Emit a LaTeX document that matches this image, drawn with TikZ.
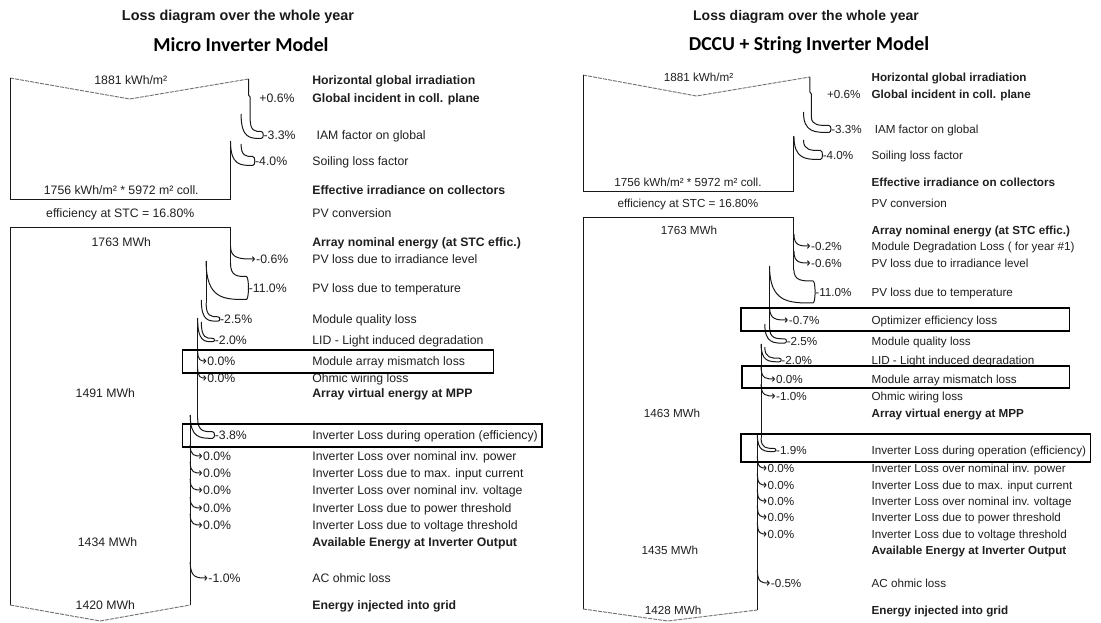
\documentclass[tikz,border=0pt]{standalone}
\usepackage{fontspec}
\setmainfont{Liberation Sans}
\newfontfamily\modelfont{Carlito}
\usetikzlibrary{calc,arrows.meta}

% loss band: old edge x, new edge x, outer start y, inner start y, value node, half height of the band end
\newcommand{\lossband}[6]{%
  \coordinate (lbA) at (#1,#3);
  \coordinate (lbB) at (#2,#4);
  \coordinate (lbT) at ($(#5.west)+(-2,-#6)$);
  \coordinate (lbU) at ($(#5.west)+(-2,#6)$);
  \draw[flow] (lbA) .. controls (lbA |- lbT) and ($(lbA |- lbT)!0.45!(lbT)$) .. (lbT)
    .. controls ($(lbT)+(2.6,0)$) and ($(lbU)+(2.6,0)$) .. (lbU)
    .. controls ($(lbB |- lbU)!0.45!(lbU)$) and (lbB |- lbU) .. (lbB);
}
% thin loss: edge x, start y, value node
\newcommand{\losstick}[3]{%
  \coordinate (ltA) at (#1,#2);
  \coordinate (ltT) at ($(#3.west)+(-0.8,0)$);
  \draw[flow,tick] (ltA) .. controls (ltA |- ltT) and ($(ltA |- ltT)!0.4!(ltT)$) .. (ltT);
}

\tikzset{
  flow/.style={draw=black!90, line width=0.75pt},
  tick/.style={-{Straight Barb[length=1.5pt,width=3.6pt]}},
  vee/.style={draw=black!55, line width=0.7pt, dash pattern=on 3pt off 0.8pt},
  hl/.style={draw=black, line width=0.95pt},
  lt/.style={anchor=west, inner sep=0pt, text height=6.6pt, text depth=0pt, text=black!88,
             font=\fontsize{9.2}{10}\selectfont},
  ltb/.style={lt, font=\fontsize{9.2}{10}\selectfont\bfseries},
  lc/.style={lt, anchor=center},
  rt/.style={anchor=west, inner sep=0pt, text height=6.3pt, text depth=0pt, text=black!88,
             font=\fontsize{8.75}{10}\selectfont},
  rtb/.style={rt, font=\fontsize{8.75}{10}\selectfont\bfseries},
  rc/.style={rt, anchor=center},
  ttl/.style={inner sep=0pt, text=black!90, font=\fontsize{10.8}{12}\selectfont\bfseries},
  model/.style={inner sep=0pt, text=black, font=\modelfont\fontsize{14.8}{16}\selectfont\bfseries}
}

\begin{document}
\begin{tikzpicture}[x=0.75pt,y=-0.75pt]
\useasboundingbox (0,0) rectangle (1101,623);

% titles
\node[ttl] (Lt1) at (238,17) {Loss diagram over the whole year};
\node[model] (Lt2) at (241,45) {Micro Inverter Model};
\node[ttl, font=\fontsize{10.5}{12}\selectfont\bfseries] (Rt1) at (806,17) {Loss diagram over the whole year};
\node[model] (Rt2) at (809,45) {DCCU + String Inverter Model};

%================ Micro inverter model ================
\begin{scope}[x=0.795pt, xshift=-0.45pt]
% irradiance part: texts
\node[lc] (Lk1) at (124,80) {1881 kWh/m²};
\node[ltb] (Ll1) at (295,80) {Horizontal global irradiation};
\node[lt] (Lv2) at (245,98) {+0.6\%};
\node[ltb] (Ll2) at (295,98) {Global incident in coll. plane};
\node[lt] (Lv3) at (249,135) {-3.3\%};
\node[lt] (Ll3) at (299,135) {IAM factor on global};
\node[lt] (Lv4) at (241,161) {-4.0\%};
\node[lt] (Ll4) at (295,161) {Soiling loss factor};
\node[lc] (Lk2) at (115,190) {1756 kWh/m² * 5972 m² coll.};
\node[ltb] (Ll5) at (295,190) {Effective irradiance on collectors};
\node[lc] (Lk3) at (114,213) {efficiency at STC = 16.80\%};
\node[lt] (Ll6) at (295,213) {PV conversion};

% irradiance part: shape
\draw[vee] (10,78) -- (123,99) -- (235,79);
\draw[flow] (235,79) -- (235,95) -- (236.5,97) -- (236.5,118);
\lossband{236.5}{228}{118}{114}{Lv3}{3.5}
\lossband{228}{218}{144}{141}{Lv4}{4.5}
\draw[flow] (218,141) -- (218,200) -- (10,200) -- (10,78);

% energy part: texts
\node[lc] (Lk4) at (115,242) {1763 MWh};
\node[ltb] (Ll7) at (295,242) {Array nominal energy (at STC effic.)};
\node[lt] (Lv8) at (242,259) {-0.6\%};
\node[lt] (Ll8) at (295,259) {PV loss due to irradiance level};
\node[lt] (Lv9) at (235,288) {-11.0\%};
\node[lt] (Ll9) at (295,288) {PV loss due to temperature};
\node[lt] (Lv10) at (208,319) {-2.5\%};
\node[lt] (Ll10) at (295,319) {Module quality loss};
\node[lt] (Lv11) at (203,340) {-2.0\%};
\node[lt] (Ll11) at (295,340) {LID - Light induced degradation};
\node[lt] (Lv12) at (196,361) {0.0\%};
\node[lt] (Ll12) at (295,361) {Module array mismatch loss};
\node[lt] (Lv13) at (196,378) {0.0\%};
\node[lt] (Ll13) at (295,378) {Ohmic wiring loss};
\node[lc] (Lk5) at (100,393) {1491 MWh};
\node[ltb] (Ll14) at (295,393) {Array virtual energy at MPP};
\node[lt] (Lv15) at (203,435) {-3.8\%};
\node[lt] (Ll15) at (295,435) {Inverter Loss during operation (efficiency)};
\node[lt] (Lv16) at (192,456) {0.0\%};
\node[lt] (Ll16) at (295,456) {Inverter Loss over nominal inv. power};
\node[lt] (Lv17) at (192,473) {0.0\%};
\node[lt] (Ll17) at (295,473) {Inverter Loss due to max. input current};
\node[lt] (Lv18) at (192,490) {0.0\%};
\node[lt] (Ll18) at (295,490) {Inverter Loss over nominal inv. voltage};
\node[lt] (Lv19) at (192,508) {0.0\%};
\node[lt] (Ll19) at (295,508) {Inverter Loss due to power threshold};
\node[lt] (Lv20) at (192,525) {0.0\%};
\node[lt] (Ll20) at (295,525) {Inverter Loss due to voltage threshold};
\node[lc] (Lk6) at (102,542) {1434 MWh};
\node[ltb] (Ll21) at (295,542) {Available Energy at Inverter Output};
\node[lt] (Lv22) at (197,578) {-1.0\%};
\node[lt] (Ll22) at (295,578) {AC ohmic loss};
\node[lc] (Lk7) at (100,605) {1420 MWh};
\node[ltb] (Ll23) at (295,605) {Energy injected into grid};

% energy part: shape
\draw[flow] (218,263) -- (218,228) -- (10,228) -- (10,605);
\losstick{218}{246}{Lv8}
\lossband{218}{195}{263}{261}{Lv9}{11.5}
\draw[flow] (195,261) -- (195,303);
\lossband{195}{190.5}{303}{300}{Lv10}{2.2}
\lossband{190.5}{187}{322}{318}{Lv11}{1.7}
\draw[flow] (187,318) -- (187,418);
\losstick{187}{350}{Lv12}
\losstick{187}{367}{Lv13}
\lossband{187}{180}{418}{415}{Lv15}{3.3}
\draw[flow] (180,415) -- (180,605);
\losstick{180}{445}{Lv16}
\losstick{180}{462}{Lv17}
\losstick{180}{479}{Lv18}
\losstick{180}{497}{Lv19}
\losstick{180}{514}{Lv20}
\losstick{180}{562}{Lv22}
\draw[vee] (10,605) -- (95,621) -- (180,605);

% highlighted rows
\draw[hl] (173,350) rectangle (466,373);
\draw[hl] (173,424) rectangle (512,447);
\end{scope}

%================ DCCU + string inverter model ================
\begin{scope}[x=0.795pt, xshift=-26.235pt]
% irradiance part: texts
\node[rc] (Rk1) at (692,77) {1881 kWh/m²};
\node[rtb] (Rl1) at (855,77) {Horizontal global irradiation};
\node[rt] (Rv2) at (813,94) {+0.6\%};
\node[rtb] (Rl2) at (855,94) {Global incident in coll. plane};
\node[rt] (Rv3) at (817,129) {-3.3\%};
\node[rt] (Rl3) at (858,129) {IAM factor on global};
\node[rt] (Rv4) at (809,155) {-4.0\%};
\node[rt] (Rl4) at (855,155) {Soiling loss factor};
\node[rc] (Rk2) at (682,182) {1756 kWh/m² * 5972 m² coll.};
\node[rtb] (Rl5) at (855,182) {Effective irradiance on collectors};
\node[rc] (Rk3) at (682,203) {efficiency at STC = 16.80\%};
\node[rt] (Rl6) at (855,203) {PV conversion};

% irradiance part: shape
\draw[vee] (583,75) -- (690,96) -- (797,77);
\draw[flow] (797,77) -- (797,92) -- (798.5,94) -- (798.5,117);
\lossband{798.5}{791}{117}{112}{Rv3}{3.5}
\lossband{791}{782}{140}{136}{Rv4}{4.5}
\draw[flow] (782,136) -- (782,192) -- (583,192) -- (583,75);

% energy part: texts
\node[rc] (Rk4) at (683,230) {1763 MWh};
\node[rtb] (Rl7) at (855,230) {Array nominal energy (at STC effic.)};
\node[rt] (Rv8) at (798,246) {-0.2\%};
\node[rt] (Rl8) at (855,246) {Module Degradation Loss ( for year \#1)};
\node[rt] (Rv9) at (798,263) {-0.6\%};
\node[rt] (Rl9) at (855,263) {PV loss due to irradiance level};
\node[rt] (Rv10) at (802,292) {-11.0\%};
\node[rt] (Rl10) at (855,292) {PV loss due to temperature};
\node[rt] (Rv11) at (777,320) {-0.7\%};
\node[rt] (Rl11) at (855,320) {Optimizer efficiency loss};
\node[rt] (Rv12) at (775,341) {-2.5\%};
\node[rt] (Rl12) at (855,341) {Module quality loss};
\node[rt] (Rv13) at (770,360) {-2.0\%};
\node[rt] (Rl13) at (855,360) {LID - Light induced degradation};
\node[rt] (Rv14) at (765,379) {0.0\%};
\node[rt] (Rl14) at (855,379) {Module array mismatch loss};
\node[rt] (Rv15) at (765,396) {-1.0\%};
\node[rt] (Rl15) at (855,396) {Ohmic wiring loss};
\node[rc] (Rk5) at (667,413) {1463 MWh};
\node[rtb] (Rl16) at (855,413) {Array virtual energy at MPP};
\node[rt] (Rv17) at (765,450) {-1.9\%};
\node[rt] (Rl17) at (855,450) {Inverter Loss during operation (efficiency)};
\node[rt] (Rv18) at (757,468) {0.0\%};
\node[rt] (Rl18) at (855,468) {Inverter Loss over nominal inv. power};
\node[rt] (Rv19) at (757,485) {0.0\%};
\node[rt] (Rl19) at (855,485) {Inverter Loss due to max. input current};
\node[rt] (Rv20) at (757,501) {0.0\%};
\node[rt] (Rl20) at (855,501) {Inverter Loss over nominal inv. voltage};
\node[rt] (Rv21) at (757,517) {0.0\%};
\node[rt] (Rl21) at (855,517) {Inverter Loss due to power threshold};
\node[rt] (Rv22) at (757,534) {0.0\%};
\node[rt] (Rl22) at (855,534) {Inverter Loss due to voltage threshold};
\node[rc] (Rk6) at (665,550) {1435 MWh};
\node[rtb] (Rl23) at (855,550) {Available Energy at Inverter Output};
\node[rt] (Rv24) at (760,583) {-0.5\%};
\node[rt] (Rl24) at (855,583) {AC ohmic loss};
\node[rc] (Rk7) at (668,610) {1428 MWh};
\node[rtb] (Rl25) at (855,610) {Energy injected into grid};

% energy part: shape
\draw[flow] (782,270) -- (782,218) -- (583,218) -- (583,609);
\losstick{782}{234}{Rv8}
\losstick{782}{251}{Rv9}
\lossband{782}{759}{270}{266}{Rv10}{11}
\draw[flow] (759,266) -- (759,327);
\losstick{759}{307}{Rv11}
\lossband{759}{754.5}{327}{324}{Rv12}{2.2}
\lossband{754.5}{751}{347}{344}{Rv13}{1.8}
\draw[flow] (751,344) -- (751,438);
\losstick{751}{367}{Rv14}
\losstick{751}{384}{Rv15}
\lossband{751}{747.5}{438}{435}{Rv17}{1.6}
\draw[flow] (747.5,435) -- (747.5,610);
\losstick{747.5}{456}{Rv18}
\losstick{747.5}{473}{Rv19}
\losstick{747.5}{489}{Rv20}
\losstick{747.5}{505}{Rv21}
\losstick{747.5}{522}{Rv22}
\losstick{747.5}{570}{Rv24}
\draw[vee] (583,609) -- (663,621) -- (747.5,610);

% highlighted rows
\draw[hl] (732,308) rectangle (1042,331);
\draw[hl] (733,366) rectangle (1042,388);
\draw[hl] (732,434) rectangle (1062,462);
\end{scope}
\end{tikzpicture}
\end{document}
